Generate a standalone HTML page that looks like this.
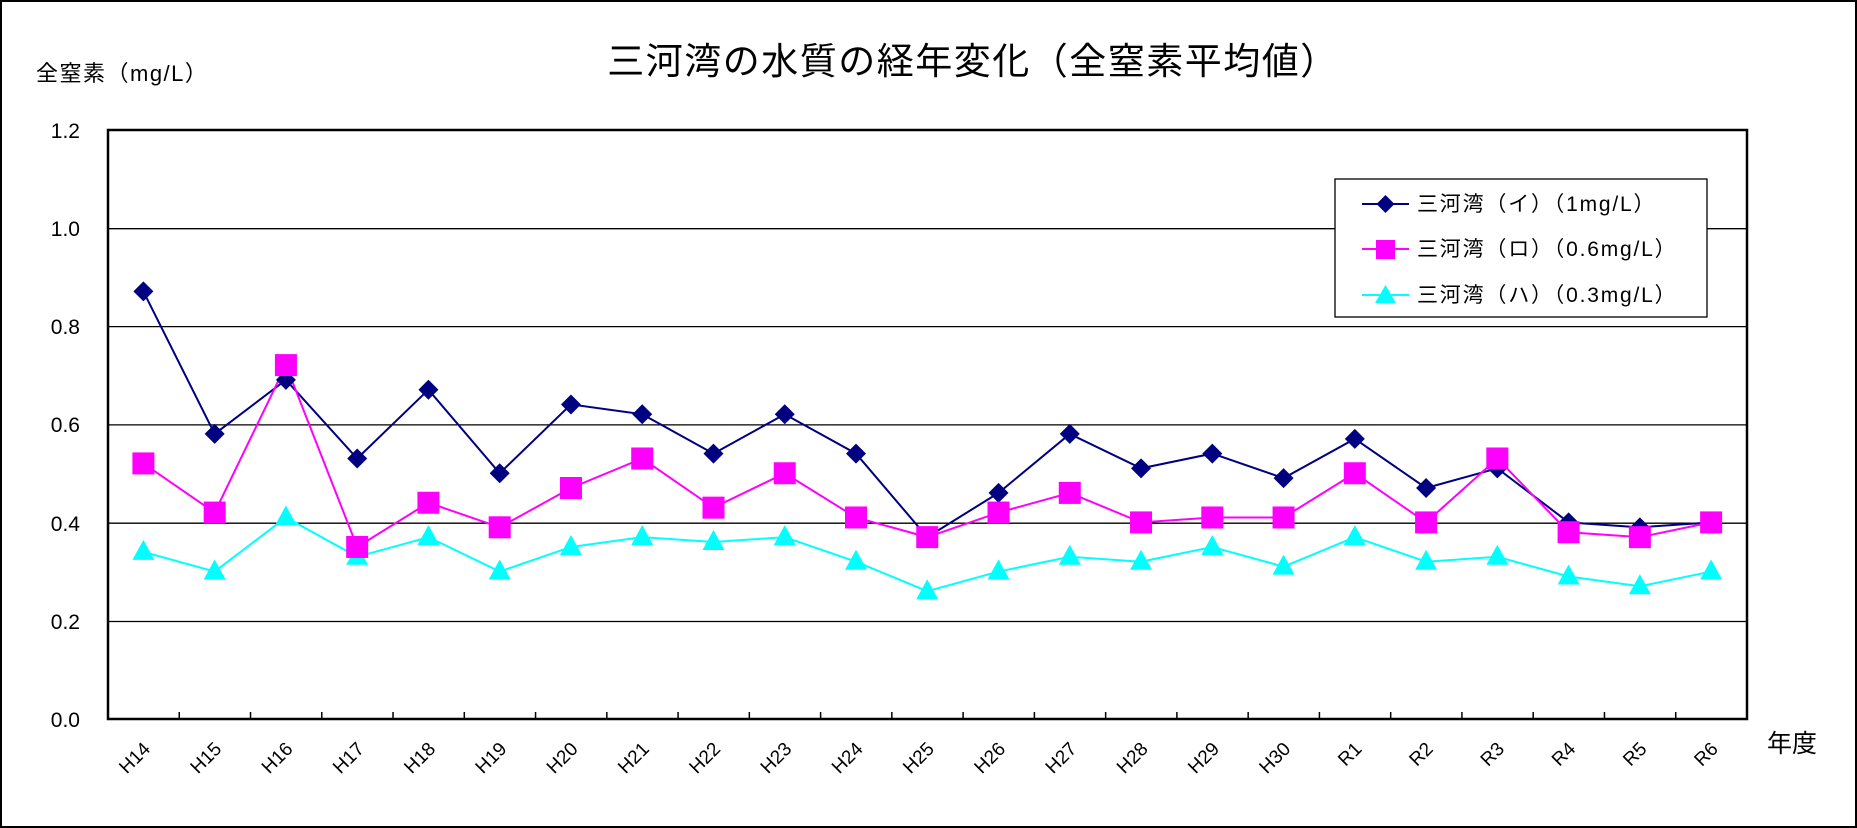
<!DOCTYPE html>
<html><head><meta charset="utf-8"><style>
html,body{margin:0;padding:0;background:#fff}
svg{display:block}
text{font-family:"Liberation Sans","Noto Sans CJK JP",sans-serif;fill:#000}
</style></head><body>
<svg id="s" width="1857" height="828" xmlns="http://www.w3.org/2000/svg">
<rect x="1" y="1" width="1855" height="826" fill="#fff" stroke="#000" stroke-width="2"/>
<text x="973" y="74" font-size="37" letter-spacing="1.5" text-anchor="middle">三河湾の水質の経年変化（全窒素平均値）</text>
<text x="36" y="81" font-size="22" letter-spacing="1.5">全窒素（mg/L）</text>
<g stroke="#000" stroke-width="1.3">
<line x1="108" y1="228.7" x2="1747" y2="228.7"/>
<line x1="108" y1="326.6" x2="1747" y2="326.6"/>
<line x1="108" y1="424.9" x2="1747" y2="424.9"/>
<line x1="108" y1="523.2" x2="1747" y2="523.2"/>
<line x1="108" y1="621.5" x2="1747" y2="621.5"/>
</g>
<rect x="108" y="130" width="1639" height="589" fill="none" stroke="#000" stroke-width="2.5"/>
<g font-size="21" text-anchor="end">
<text x="80" y="138">1.2</text><text x="80" y="236">1.0</text><text x="80" y="334">0.8</text>
<text x="80" y="432">0.6</text><text x="80" y="531">0.4</text><text x="80" y="629">0.2</text><text x="80" y="727">0.0</text>
</g>
<g id="ticks" stroke="#000" stroke-width="1.5"></g>
<g id="xl" font-size="19" text-anchor="end"></g>
<text x="1767" y="752" font-size="25">年度</text>
<g id="series"></g>
<rect x="1335" y="179" width="372" height="138" fill="#fff" stroke="#000" stroke-width="1.3"/>
<line x1="1362" y1="204" x2="1409" y2="204" stroke="#000080" stroke-width="2"/>
<polygon points="1385.5,195 1394.5,204 1385.5,213 1376.5,204" fill="#000080"/>
<text x="1417" y="211" font-size="21" letter-spacing="1.8">三河湾（イ）（1mg/L）</text>
<line x1="1362" y1="249" x2="1409" y2="249" stroke="#ff00ff" stroke-width="2"/>
<rect x="1376" y="240" width="19" height="19" fill="#ff00ff"/>
<text x="1417" y="256" font-size="21" letter-spacing="1.8">三河湾（ロ）（0.6mg/L）</text>
<line x1="1362" y1="295" x2="1409" y2="295" stroke="#00ffff" stroke-width="2"/>
<polygon points="1385.5,285 1396,303 1375,303" fill="#00ffff"/>
<text x="1417" y="302" font-size="21" letter-spacing="1.8">三河湾（ハ）（0.3mg/L）</text>
</svg>
<script>
var NS="http://www.w3.org/2000/svg";
var labs=["H14","H15","H16","H17","H18","H19","H20","H21","H22","H23","H24","H25","H26","H27","H28","H29","H30","R1","R2","R3","R4","R5","R6"];
var a=[.87,.58,.69,.53,.67,.50,.64,.62,.54,.62,.54,.37,.46,.58,.51,.54,.49,.57,.47,.51,.40,.39,.40];
var b=[.52,.42,.72,.35,.44,.39,.47,.53,.43,.50,.41,.37,.42,.46,.40,.41,.41,.50,.40,.53,.38,.37,.40];
var c=[.34,.30,.41,.33,.37,.30,.35,.37,.36,.37,.32,.26,.30,.33,.32,.35,.31,.37,.32,.33,.29,.27,.30];
function X(i){return 143.4+71.26*i}
function Y(v){return 719-491.5*v}
function el(t,at,p){var e=document.createElementNS(NS,t);for(var k in at)e.setAttribute(k,at[k]);p.appendChild(e);return e}
var tk=document.getElementById("ticks"),xl=document.getElementById("xl"),sr=document.getElementById("series");
for(var i=1;i<23;i++){var x=108+71.26*i;el("line",{x1:x,y1:712,x2:x,y2:719},tk);}
labs.forEach(function(l,i){var x=X(i)+8,y=750;var t=el("text",{x:x,y:y,transform:"rotate(-45 "+x+" "+y+")"},xl);t.textContent=l;});
function line(d,col){el("polyline",{points:d.map(function(v,i){return X(i)+","+Y(v)}).join(" "),fill:"none",stroke:col,"stroke-width":2},sr);}
line(a,"#000080");line(b,"#ff00ff");line(c,"#00ffff");
c.forEach(function(v,i){var x=X(i),y=Y(v);el("polygon",{points:x+","+(y-12)+" "+(x+11)+","+(y+8)+" "+(x-11)+","+(y+8),fill:"#00ffff"},sr);});
a.forEach(function(v,i){var x=X(i),y=Y(v);el("polygon",{points:x+","+(y-10)+" "+(x+10)+","+y+" "+x+","+(y+10)+" "+(x-10)+","+y,fill:"#000080"},sr);});
b.forEach(function(v,i){var x=X(i),y=Y(v);el("rect",{x:x-11,y:y-11,width:22,height:22,fill:"#ff00ff"},sr);});
</script>
</body></html>
